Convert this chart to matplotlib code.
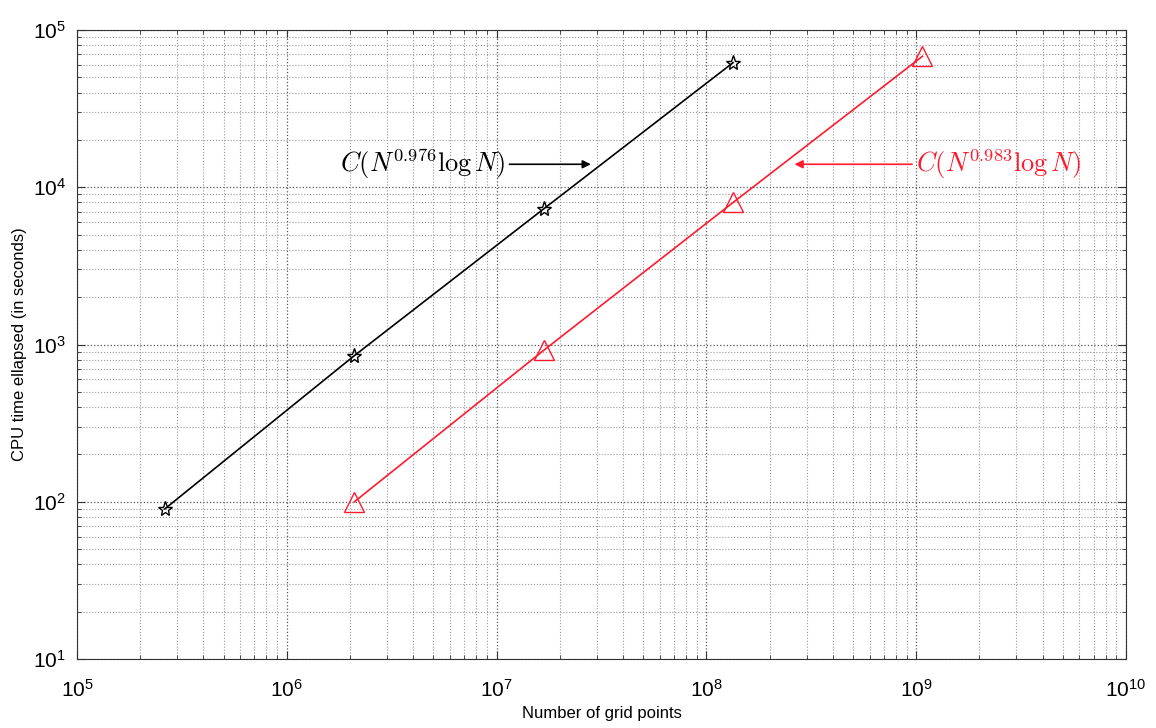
import numpy as np
import matplotlib
matplotlib.use('Agg')
import matplotlib.pyplot as plt
from matplotlib.ticker import LogLocator, NullFormatter

# grid sizes (points) and CPU seconds
n_black = [2.62e5, 2.10e6, 1.68e7, 1.34e8]
t_black = [90, 850, 7300, 62000]
n_red = [2.10e6, 1.68e7, 1.34e8, 1.07e9]
t_red = [100, 920, 8000, 68000]

label_black = r'$C(N^{0.976}\log N)$'
label_red = r'$C(N^{0.983}\log N)$'

plt.rcParams['font.family'] = ['Liberation Sans', 'DejaVu Sans']
plt.rcParams['mathtext.fontset'] = 'cm'

fig = plt.figure(figsize=(11.56, 7.28), dpi=100)
ax = fig.add_axes([77 / 1156, 1 - 659 / 728, 1049 / 1156, 629 / 728])

ax.loglog(n_black, t_black, color='black', lw=1.2, marker='*', ms=11,
          mfc='none', mec='black', mew=1.0)
ax.loglog(n_red, t_red, color='#ff1a2e', lw=1.2, marker='^', ms=14,
          mfc='none', mec='#ff1a2e', mew=1.0)

ax.set_xlim(1e5, 1e10)
ax.set_ylim(1e1, 1e5)

ax.xaxis.set_major_locator(LogLocator(base=10, numticks=10))
ax.xaxis.set_minor_locator(LogLocator(base=10, subs=np.arange(2, 10), numticks=20))
ax.yaxis.set_minor_locator(LogLocator(base=10, subs=np.arange(2, 10), numticks=20))
ax.xaxis.set_minor_formatter(NullFormatter())
ax.yaxis.set_minor_formatter(NullFormatter())

ax.grid(True, which='major', ls=':', color='#555555', lw=0.9)
ax.grid(True, which='minor', ls=':', color='#999999', lw=0.8)
ax.tick_params(which='both', direction='in', top=True, right=True, color='#333333')
ax.tick_params(which='major', length=6, labelsize=15)
ax.tick_params(axis='x', which='major', pad=14)
ax.tick_params(axis='y', which='major', pad=8)
ax.tick_params(which='minor', length=3)
for s in ax.spines.values():
    s.set_color('#333333')

ax.set_xlabel('Number of grid points', fontsize=12, labelpad=4)
ax.set_ylabel('CPU time ellapsed (in seconds)', fontsize=12, labelpad=4)

ax.annotate(label_black, xy=(2.9e7, 1.4e4), xytext=(1.1e7, 1.4e4),
            fontsize=19, color='black', va='center', ha='right',
            arrowprops=dict(arrowstyle='-|>', color='black', lw=1.2,
                            mutation_scale=12, shrinkA=1))
ax.annotate(label_red, xy=(2.55e8, 1.4e4), xytext=(1.0e9, 1.4e4),
            fontsize=19, color='#ff1a2e', va='center', ha='left',
            arrowprops=dict(arrowstyle='-|>', color='#ff1a2e', lw=1.2,
                            mutation_scale=12, shrinkA=1))

fig.savefig('out.png', dpi=100)
